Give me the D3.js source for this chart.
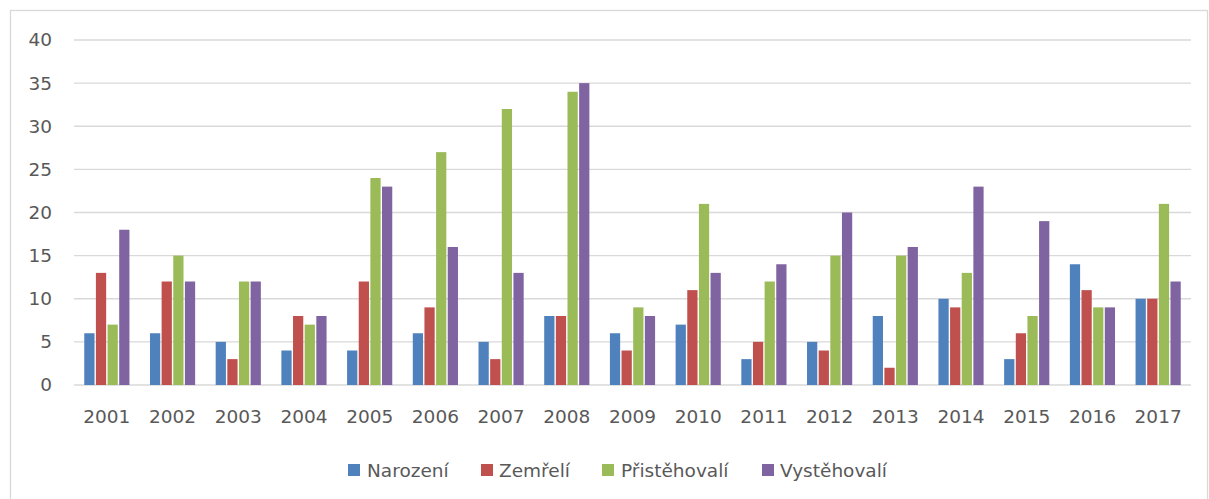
<!DOCTYPE html>
<html><head><meta charset="utf-8">
<script src="https://cdn.jsdelivr.net/npm/d3@7"></script>
<style>body{margin:0;background:#fff}svg{display:block}</style>
</head><body>
<script>
const years = ["2001","2002","2003","2004","2005","2006","2007","2008","2009","2010","2011","2012","2013","2014","2015","2016","2017"];
const seriesNames = ["Narození","Zemřelí","Přistěhovalí","Vystěhovalí"];
const narozeni     = [6,6,5,4,4,6,5,8,6,7,3,5,8,10,3,14,10];
const zemreli      = [13,12,3,8,12,9,3,8,4,11,5,4,2,9,6,11,10];
const pristehovali = [7,15,12,7,24,27,32,34,9,21,12,15,15,13,8,9,21];
const vystehovali  = [18,12,12,8,23,16,13,35,8,13,14,20,16,23,19,9,12];
const yTicks = [0,5,10,15,20,25,30,35,40];
const colors = ["#4F81BD","#C0504D","#9BBB59","#8064A2"];

(function(){
const W = 1209, H = 499;
const svg = d3.select("body").append("svg").attr("width", W).attr("height", H);
const font = "DejaVu Sans, sans-serif";

svg.append("rect").attr("x",10.5).attr("y",10.5).attr("width",1197).attr("height",520)
  .attr("fill","#fff").attr("stroke","#d9d9d9").attr("stroke-width",1.3);

const pLeft = 74, pRight = 1191, pTop = 40, pBottom = 385;
const x = d3.scaleBand().domain(years).range([pLeft, pRight]).paddingInner(0.27).paddingOuter(0.135);
const x1 = d3.scaleBand().domain(seriesNames).range([0, x.bandwidth()]).padding(0.12);
const y = d3.scaleLinear().domain([0,40]).range([pBottom, pTop]);

const data = [narozeni, zemreli, pristehovali, vystehovali];

svg.append("g").selectAll("line").data(yTicks).join("line")
  .attr("x1", pLeft).attr("x2", pRight)
  .attr("y1", d => y(d)).attr("y2", d => y(d))
  .attr("stroke", "#d9d9d9").attr("stroke-width", 1.3);

const yAxis = d3.axisLeft(y).tickValues(yTicks).tickSize(0).tickPadding(0);
const gy = svg.append("g").attr("transform", `translate(52,0)`).call(yAxis);
gy.select(".domain").remove();
gy.selectAll("text").attr("font-family", font).attr("font-size", 18.5).attr("fill", "#595959");

seriesNames.forEach((s, si) => {
  svg.append("g").selectAll("rect").data(years).join("rect")
    .attr("x", d => x(d) + x1(s))
    .attr("y", (d, i) => y(data[si][i]))
    .attr("width", x1.bandwidth())
    .attr("height", (d, i) => y(0) - y(data[si][i]))
    .attr("fill", colors[si]);
});

const xAxis = d3.axisBottom(x).tickSize(0).tickPadding(0);
const gx = svg.append("g").attr("transform", `translate(0,${pBottom + 25})`).call(xAxis);
gx.select(".domain").remove();
gx.selectAll("text").attr("font-family", font).attr("font-size", 18.5).attr("fill", "#595959");

const legendX = [348, 481, 602, 762];
const legendTX = [367, 499, 621, 780];
const lg = svg.append("g");
seriesNames.forEach((s, i) => {
  lg.append("rect").attr("x", legendX[i]).attr("y", 464).attr("width", 12).attr("height", 12).attr("fill", colors[i]);
  lg.append("text").attr("x", legendTX[i]).attr("y", 477)
    .attr("font-family", font).attr("font-size", 18.5).attr("fill", "#595959").text(s);
});
})();
</script>
</body></html>
